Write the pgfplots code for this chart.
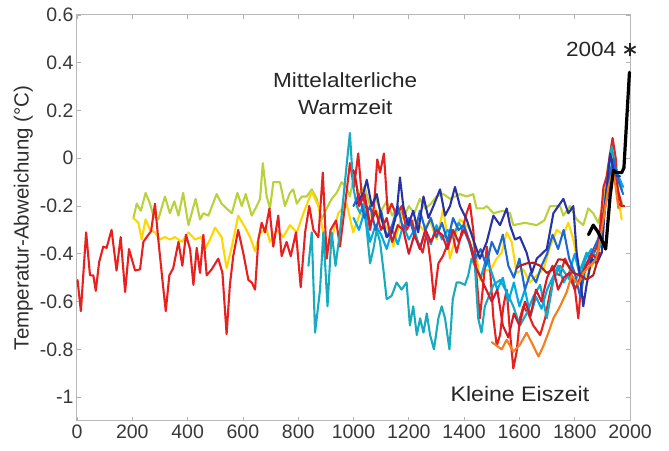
\documentclass[border=0pt]{standalone}
\usepackage{pgfplots}
\pgfplotsset{compat=1.18}
\usepackage{fontspec}
\setmainfont{Liberation Sans}
\definecolor{cred}{RGB}{232,32,32}
\definecolor{cred2}{RGB}{215,25,40}
\definecolor{cygreen}{RGB}{185,210,60}
\definecolor{cyellow}{RGB}{255,215,0}
\definecolor{cteal}{RGB}{25,170,190}
\definecolor{cdblue}{RGB}{40,50,165}
\definecolor{cmblue}{RGB}{30,105,205}
\definecolor{clblue}{RGB}{0,170,230}
\definecolor{corange}{RGB}{245,125,30}
\definecolor{cdred}{RGB}{185,30,30}
\tikzset{ser/.style={line width=2.1pt, line join=round, line cap=round}}
\begin{document}
\begin{tikzpicture}
\begin{axis}[name=ax, scale only axis, width=553pt, height=406pt,
  xmin=0, xmax=2000, ymin=-1.1, ymax=0.6,
  xtick={0,200,...,2000},
  ytick={-1,-0.8,-0.6,-0.4,-0.2,0,0.2,0.4,0.6},
  /pgf/number format/assume math mode=true,
  /pgf/number format/1000 sep={},
  tick label style={font=\fontsize{19.5}{21}\selectfont, text=black!78},
  axis line style={black!28, line width=1pt},
  tick style={black!30, line width=0.7pt},
  major tick length=4pt, tick align=inside,
  ylabel={Temperatur-Abweichung (°C)},
  ylabel style={font=\fontsize{20.5}{22}\selectfont, text=black!82},
  clip=false,
]
\addplot[ser, cygreen] coordinates {(204,-0.25)(216,-0.19)(231,-0.22)(248,-0.145)(264,-0.19)(276,-0.24)(294,-0.256)(318,-0.16)(336,-0.23)(352,-0.18)(367,-0.24)(384,-0.145)(403,-0.28)(417,-0.22)(429,-0.17)(445,-0.256)(457,-0.23)(475,-0.24)(505,-0.15)(523,-0.19)(541,-0.21)(560,-0.23)(580,-0.145)(596,-0.20)(610,-0.15)(632,-0.24)(650,-0.20)(662,-0.17)(672,-0.02)(686,-0.16)(698,-0.21)(710,-0.10)(734,-0.10)(752,-0.20)(770,-0.145)(782,-0.13)(795,-0.19)(813,-0.16)(831,-0.16)(849,-0.13)(867,-0.17)(885,-0.256)(903,-0.21)(921,-0.17)(939,-0.145)(957,-0.10)(973,-0.12)(987,-0.16)(1000,-0.08)(1020,-0.15)(1040,-0.12)(1060,-0.2)(1080,-0.17)(1100,-0.22)(1120,-0.18)(1140,-0.24)(1160,-0.2)(1180,-0.25)(1200,-0.2)(1220,-0.23)(1240,-0.17)(1260,-0.21)(1280,-0.19)(1300,-0.16)(1325,-0.15)(1350,-0.17)(1385,-0.15)(1409,-0.16)(1433,-0.15)(1445,-0.21)(1470,-0.21)(1482,-0.20)(1506,-0.23)(1540,-0.22)(1566,-0.23)(1578,-0.28)(1620,-0.27)(1663,-0.28)(1690,-0.26)(1711,-0.20)(1747,-0.20)(1759,-0.24)(1783,-0.20)(1807,-0.256)(1831,-0.28)(1849,-0.21)(1867,-0.23)(1885,-0.27)(1904,-0.19)(1922,-0.02)(1940,0.02)(1958,-0.145)(1975,-0.2)};
\addplot[ser, cyellow] coordinates {(204,-0.25)(222,-0.27)(234,-0.34)(248,-0.256)(264,-0.30)(282,-0.31)(300,-0.34)(318,-0.33)(336,-0.34)(354,-0.33)(379,-0.35)(403,-0.31)(427,-0.34)(448,-0.33)(463,-0.38)(481,-0.34)(499,-0.29)(523,-0.33)(541,-0.46)(560,-0.37)(583,-0.24)(608,-0.29)(626,-0.33)(644,-0.39)(662,-0.31)(686,-0.30)(698,-0.35)(722,-0.30)(746,-0.33)(770,-0.28)(795,-0.31)(819,-0.23)(849,-0.14)(873,-0.20)(903,-0.395)(921,-0.34)(945,-0.23)(975,-0.19)(999,-0.31)(1024,-0.23)(1048,-0.256)(1078,-0.21)(1102,-0.26)(1126,-0.30)(1144,-0.37)(1174,-0.24)(1198,-0.28)(1222,-0.256)(1252,-0.30)(1276,-0.26)(1301,-0.34)(1325,-0.21)(1349,-0.42)(1373,-0.31)(1385,-0.256)(1409,-0.28)(1427,-0.31)(1446,-0.42)(1457,-0.51)(1475,-0.465)(1494,-0.47)(1518,-0.42)(1536,-0.395)(1554,-0.31)(1572,-0.35)(1590,-0.48)(1614,-0.465)(1638,-0.52)(1663,-0.49)(1687,-0.465)(1711,-0.37)(1735,-0.30)(1759,-0.32)(1777,-0.27)(1795,-0.34)(1813,-0.45)(1831,-0.51)(1849,-0.48)(1867,-0.44)(1886,-0.395)(1904,-0.23)(1922,-0.075)(1940,-0.02)(1958,-0.17)(1970,-0.256)};
\addplot[ser, cred] coordinates {(2,-0.51)(14,-0.64)(33,-0.31)(47,-0.49)(59,-0.49)(68,-0.555)(80,-0.435)(95,-0.37)(107,-0.375)(125,-0.30)(143,-0.47)(158,-0.33)(174,-0.56)(188,-0.38)(210,-0.47)(228,-0.465)(240,-0.35)(252,-0.33)(268,-0.305)(282,-0.19)(294,-0.34)(309,-0.51)(321,-0.64)(334,-0.49)(348,-0.46)(367,-0.35)(381,-0.45)(394,-0.32)(409,-0.38)(421,-0.53)(433,-0.375)(445,-0.48)(457,-0.32)(469,-0.49)(487,-0.465)(511,-0.42)(526,-0.48)(541,-0.736)(553,-0.53)(565,-0.41)(583,-0.30)(601,-0.395)(620,-0.51)(632,-0.52)(644,-0.55)(656,-0.34)(668,-0.27)(680,-0.31)(696,-0.21)(710,-0.37)(728,-0.24)(740,-0.41)(758,-0.35)(773,-0.41)(792,-0.31)(809,-0.54)(825,-0.31)(840,-0.20)(855,-0.30)(873,-0.33)(889,-0.06)(903,-0.42)(917,-0.30)(937,-0.26)(951,-0.37)(969,-0.20)(987,-0.02)(1002,-0.12)(1017,0.02)(1029,-0.145)(1045,-0.20)(1060,-0.30)(1074,-0.20)(1086,-0.005)(1096,-0.06)(1110,0.02)(1124,-0.23)(1138,-0.19)(1156,-0.24)(1174,-0.20)(1192,-0.30)(1211,-0.26)(1229,-0.34)(1250,-0.395)(1265,-0.31)(1279,-0.44)(1291,-0.59)(1307,-0.44)(1323,-0.41)(1337,-0.37)(1355,-0.30)(1373,-0.395)(1391,-0.31)(1409,-0.23)(1421,-0.19)(1433,-0.30)(1446,-0.51)(1457,-0.67)(1469,-0.53)(1482,-0.37)(1494,-0.465)(1506,-0.67)(1518,-0.785)(1530,-0.74)(1542,-0.62)(1554,-0.55)(1566,-0.73)(1578,-0.88)(1590,-0.81)(1602,-0.67)(1614,-0.62)(1632,-0.65)(1650,-0.70)(1675,-0.74)(1693,-0.67)(1711,-0.56)(1729,-0.48)(1747,-0.49)(1765,-0.42)(1783,-0.465)(1801,-0.55)(1813,-0.67)(1825,-0.51)(1843,-0.45)(1861,-0.42)(1880,-0.37)(1891,-0.30)(1904,-0.12)(1916,-0.075)(1928,0.02)(1937,0.085)(1949,-0.005)(1958,-0.19)(1970,-0.20)};
\addplot[ser, cteal] coordinates {(837,-0.45)(849,-0.31)(861,-0.73)(879,-0.55)(891,-0.31)(906,-0.62)(921,-0.31)(935,-0.45)(951,-0.31)(975,-0.03)(987,0.106)(999,-0.12)(1012,-0.2)(1024,-0.23)(1036,-0.19)(1048,-0.30)(1060,-0.44)(1072,-0.38)(1084,-0.30)(1096,-0.35)(1108,-0.465)(1120,-0.59)(1138,-0.576)(1156,-0.52)(1174,-0.55)(1192,-0.52)(1204,-0.70)(1216,-0.62)(1229,-0.74)(1241,-0.67)(1253,-0.73)(1265,-0.65)(1277,-0.74)(1291,-0.80)(1307,-0.67)(1319,-0.62)(1331,-0.67)(1347,-0.80)(1359,-0.59)(1373,-0.52)(1385,-0.52)(1403,-0.53)(1415,-0.49)(1427,-0.42)(1439,-0.45)(1451,-0.67)(1463,-0.73)(1475,-0.62)(1506,-0.53)(1530,-0.51)(1554,-0.56)(1578,-0.62)(1602,-0.70)(1626,-0.65)(1650,-0.58)(1675,-0.53)(1699,-0.67)(1723,-0.51)(1747,-0.45)(1771,-0.49)(1795,-0.53)(1819,-0.47)(1843,-0.395)(1867,-0.44)(1891,-0.37)(1910,-0.17)(1934,0.05)(1952,-0.075)(1970,-0.13)};
\addplot[ser, clblue] coordinates {(1000,-0.25)(1020,-0.3)(1040,-0.22)(1060,-0.35)(1080,-0.28)(1100,-0.32)(1120,-0.38)(1140,-0.3)(1160,-0.36)(1180,-0.28)(1200,-0.34)(1220,-0.3)(1240,-0.38)(1260,-0.3)(1280,-0.36)(1300,-0.28)(1320,-0.34)(1340,-0.3)(1360,-0.33)(1380,-0.27)(1400,-0.3)(1420,-0.36)(1440,-0.45)(1460,-0.5)(1480,-0.42)(1500,-0.48)(1520,-0.55)(1540,-0.5)(1560,-0.6)(1580,-0.52)(1600,-0.62)(1620,-0.55)(1640,-0.66)(1660,-0.58)(1680,-0.63)(1700,-0.55)(1720,-0.5)(1740,-0.45)(1760,-0.52)(1780,-0.48)(1800,-0.4)(1820,-0.5)(1840,-0.42)(1860,-0.38)(1880,-0.42)(1900,-0.3)(1920,-0.1)(1940,-0.02)(1960,-0.08)(1975,-0.12)};
\addplot[ser, cmblue] coordinates {(1000,-0.2)(1020,-0.15)(1040,-0.25)(1060,-0.2)(1080,-0.3)(1100,-0.22)(1120,-0.33)(1140,-0.28)(1160,-0.2)(1180,-0.3)(1200,-0.25)(1220,-0.32)(1240,-0.22)(1260,-0.3)(1280,-0.25)(1300,-0.33)(1320,-0.27)(1340,-0.35)(1360,-0.25)(1380,-0.3)(1400,-0.28)(1420,-0.35)(1440,-0.42)(1460,-0.38)(1480,-0.45)(1500,-0.35)(1520,-0.4)(1540,-0.32)(1560,-0.45)(1580,-0.5)(1600,-0.42)(1620,-0.55)(1640,-0.48)(1660,-0.52)(1680,-0.45)(1700,-0.4)(1720,-0.32)(1740,-0.38)(1760,-0.3)(1780,-0.42)(1800,-0.48)(1820,-0.58)(1840,-0.45)(1860,-0.4)(1880,-0.35)(1900,-0.3)(1920,-0.1)(1940,0.0)(1960,-0.1)(1975,-0.15)};
\addplot[ser, cdblue] coordinates {(1012,-0.19)(1036,-0.145)(1048,-0.09)(1066,-0.2)(1084,-0.15)(1102,-0.256)(1120,-0.33)(1138,-0.31)(1156,-0.23)(1168,-0.08)(1180,-0.2)(1198,-0.28)(1216,-0.22)(1234,-0.31)(1253,-0.16)(1271,-0.25)(1289,-0.2)(1313,-0.13)(1331,-0.24)(1349,-0.2)(1367,-0.12)(1385,-0.2)(1409,-0.256)(1433,-0.34)(1457,-0.42)(1482,-0.35)(1506,-0.24)(1530,-0.28)(1554,-0.21)(1566,-0.28)(1584,-0.34)(1602,-0.33)(1626,-0.395)(1645,-0.48)(1663,-0.42)(1681,-0.40)(1699,-0.38)(1723,-0.23)(1741,-0.2)(1759,-0.17)(1777,-0.23)(1795,-0.2)(1807,-0.395)(1819,-0.49)(1831,-0.62)(1843,-0.53)(1861,-0.42)(1880,-0.44)(1898,-0.395)(1910,-0.19)(1928,0.02)(1946,-0.075)(1964,-0.075)};
\addplot[ser, cred2] coordinates {(1000,-0.05)(1010,-0.1)(1020,-0.2)(1040,-0.15)(1060,-0.28)(1080,-0.22)(1100,-0.3)(1120,-0.25)(1140,-0.35)(1160,-0.28)(1180,-0.3)(1200,-0.4)(1220,-0.32)(1240,-0.38)(1260,-0.3)(1280,-0.35)(1300,-0.3)(1320,-0.32)(1340,-0.38)(1360,-0.3)(1380,-0.35)(1400,-0.3)(1420,-0.35)(1440,-0.45)(1460,-0.5)(1480,-0.55)(1500,-0.6)(1520,-0.55)(1540,-0.7)(1560,-0.75)(1580,-0.65)(1600,-0.7)(1620,-0.6)(1640,-0.66)(1660,-0.55)(1680,-0.6)(1700,-0.5)(1720,-0.45)(1740,-0.55)(1760,-0.5)(1780,-0.48)(1800,-0.55)(1820,-0.5)(1840,-0.45)(1860,-0.4)(1880,-0.42)(1900,-0.25)(1920,-0.15)(1940,-0.05)(1960,-0.15)(1970,-0.2)(1980,-0.2)};
\addplot[ser, corange] coordinates {(1500,-0.77)(1518,-0.785)(1536,-0.80)(1554,-0.76)(1578,-0.81)(1602,-0.78)(1626,-0.73)(1650,-0.785)(1669,-0.83)(1687,-0.785)(1705,-0.73)(1723,-0.67)(1747,-0.62)(1771,-0.56)(1789,-0.49)(1813,-0.53)(1831,-0.48)(1855,-0.45)(1880,-0.42)(1904,-0.256)(1922,-0.12)(1940,-0.05)(1958,-0.21)};
\addplot[ser, cdred] coordinates {(1590,-0.46)(1602,-0.45)(1626,-0.44)(1650,-0.437)(1675,-0.45)(1699,-0.48)(1723,-0.465)(1741,-0.423)(1759,-0.425)(1777,-0.45)(1795,-0.48)(1819,-0.49)(1843,-0.507)(1867,-0.49)(1891,-0.395)};
\addplot[ser, black, line width=3.2pt] coordinates {(1850,-0.32)(1867,-0.28)(1885,-0.31)(1905,-0.36)(1912,-0.38)(1928,-0.16)(1940,-0.05)(1952,-0.06)(1970,-0.06)(1978,-0.04)(1998,0.36)};
\addplot[only marks, mark=asterisk, mark size=6.5pt, black!85, line width=1.8pt] coordinates {(2000,0.455)};
\node[align=center, font=\fontsize{20.5}{27}\selectfont, text=black!85, xscale=1.1, transform shape] at (axis cs:970,0.272) {Mittelalterliche\\Warmzeit};
\node[font=\fontsize{21}{24}\selectfont, text=black!85, xscale=1.1, transform shape] at (axis cs:1602,-0.988) {Kleine Eiszeit};
\node[anchor=east, font=\fontsize{20.5}{24}\selectfont, text=black!85, xscale=1.1, transform shape, inner sep=1pt] at (axis cs:1955,0.455) {2004};
\end{axis}
\pgfresetboundingbox
\path ([shift={(-77pt,-30pt)}]ax.south west) rectangle ([shift={(39pt,15pt)}]ax.north east);
\end{tikzpicture}
\end{document}
